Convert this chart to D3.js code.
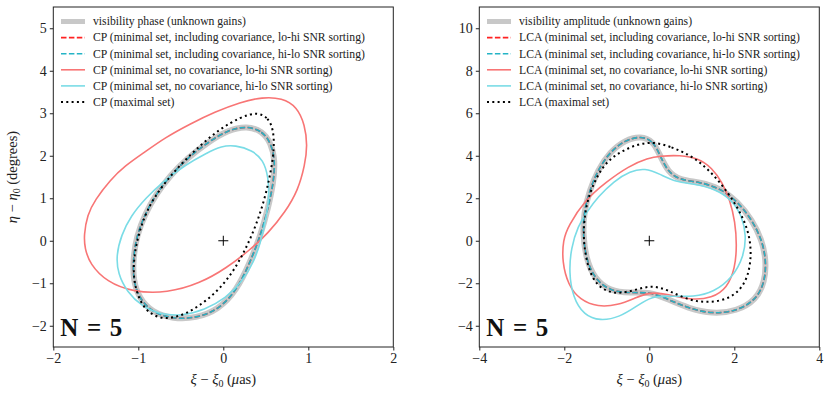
<!DOCTYPE html>
<html><head><meta charset="utf-8">
<script src="https://cdn.jsdelivr.net/npm/d3@7"></script>
<style>body{margin:0;background:#fff} svg{display:block;font-family:"Liberation Serif","DejaVu Serif",serif}</style>
</head><body><svg id="c" width="831" height="394"></svg>
<script>
// ---------- data (xi, eta) ----------
const xiTicksL = [-2, -1, 0, 1, 2];
const etaTicksL = [-2, -1, 0, 1, 2, 3, 4, 5];
const xiTicksR = [-4, -2, 0, 2, 4];
const etaTicksR = [-4, -2, 0, 2, 4, 6, 8, 10];

const legendL = ["visibility phase (unknown gains)",
  "CP (minimal set, including covariance, lo-hi SNR sorting)",
  "CP (minimal set, including covariance, hi-lo SNR sorting)",
  "CP (minimal set, no covariance, lo-hi SNR sorting)",
  "CP (minimal set, no covariance, hi-lo SNR sorting)",
  "CP (maximal set)"];
const legendR = ["visibility amplitude (unknown gains)",
  "LCA (minimal set, including covariance, lo-hi SNR sorting)",
  "LCA (minimal set, including covariance, hi-lo SNR sorting)",
  "LCA (minimal set, no covariance, lo-hi SNR sorting)",
  "LCA (minimal set, no covariance, hi-lo SNR sorting)",
  "LCA (maximal set)"];

// left panel: closure phases
const cpCov = [[0.28,2.70],[0.46,2.58],[0.56,2.30],[0.61,1.90],[0.59,1.36],[0.53,0.79],[0.44,0.13],[0.31,-0.53],[0.16,-1.16],[-0.06,-1.63],[-0.32,-1.82],[-0.59,-1.84],[-0.84,-1.68],[-0.99,-1.35],[-1.06,-0.93],[-1.06,-0.41],[-1.02,0.11],[-0.92,0.63],[-0.79,1.10],[-0.63,1.52],[-0.42,1.95],[-0.18,2.32],[0.06,2.61]];
const cpNoCovLoHi = [[-1.64,0.13],[-1.60,0.61],[-1.51,0.96],[-1.33,1.43],[-1.16,1.76],[-0.92,2.09],[-0.69,2.42],[-0.39,2.75],[-0.10,3.03],[0.20,3.26],[0.46,3.38],[0.69,3.36],[0.87,3.15],[0.96,2.72],[0.99,2.25],[0.96,1.78],[0.88,1.19],[0.73,0.68],[0.53,0.18],[0.31,-0.22],[0.04,-0.64],[-0.27,-1.00],[-0.66,-1.23],[-1.06,-1.21],[-1.37,-0.97],[-1.57,-0.55],[-1.63,-0.17]];
const cpNoCovHiLo = [[0.14,2.25],[0.34,2.13],[0.47,1.90],[0.53,1.50],[0.54,1.03],[0.50,0.49],[0.44,-0.03],[0.36,-0.50],[0.22,-0.97],[0.03,-1.35],[-0.22,-1.63],[-0.49,-1.77],[-0.75,-1.73],[-0.96,-1.54],[-1.13,-1.21],[-1.24,-0.78],[-1.26,-0.34],[-1.20,0.13],[-1.09,0.58],[-0.91,1.01],[-0.70,1.41],[-0.45,1.78],[-0.20,2.06],[-0.02,2.23]];
const cpMax = [[0.40,3.03],[0.53,2.89],[0.59,2.61],[0.60,2.18],[0.56,1.62],[0.49,1.01],[0.40,0.44],[0.29,-0.08],[0.17,-0.55],[0.01,-1.02],[-0.20,-1.42],[-0.44,-1.73],[-0.69,-1.87],[-0.89,-1.70],[-1.00,-1.35],[-1.06,-0.88],[-1.05,-0.34],[-0.99,0.21],[-0.89,0.77],[-0.72,1.29],[-0.51,1.78],[-0.27,2.25],[-0.04,2.63],[0.20,2.91]];

// right panel: log closure amplitudes
const lcaCov = [[-0.20,4.93],[0.09,4.69],[0.25,4.03],[0.44,3.23],[0.72,2.86],[1.19,2.76],[1.66,2.48],[2.09,1.82],[2.42,0.97],[2.65,0.03],[2.75,-0.91],[2.72,-1.94],[2.51,-2.79],[2.06,-3.31],[1.48,-3.45],[0.91,-3.17],[0.42,-2.74],[0.02,-2.41],[-0.45,-2.46],[-0.93,-2.37],[-1.30,-1.76],[-1.49,-0.81],[-1.56,0.27],[-1.54,1.35],[-1.40,2.39],[-1.21,3.33],[-0.93,4.17],[-0.57,4.74]];
const lcaNoCovLoHi = [[0.25,3.99],[0.72,4.03],[1.15,3.89],[1.48,3.42],[1.71,2.76],[1.90,1.92],[2.02,0.88],[2.06,-0.20],[2.02,-1.29],[1.83,-2.23],[1.48,-2.70],[0.96,-2.79],[0.44,-2.51],[0.02,-2.41],[-0.34,-2.70],[-0.74,-3.03],[-1.21,-3.12],[-1.63,-2.79],[-1.91,-2.09],[-2.05,-1.00],[-2.03,0.03],[-1.91,0.69],[-1.51,1.92],[-1.02,2.76],[-0.48,3.52],[-0.03,3.89]];
const lcaNoCovHiLo = [[-0.10,3.42],[0.25,3.14],[0.61,2.76],[1.08,2.67],[1.55,2.43],[1.95,1.92],[2.18,1.16],[2.28,0.27],[2.23,-0.72],[1.95,-1.76],[1.52,-2.41],[1.05,-2.65],[0.49,-2.60],[0.06,-2.60],[-0.29,-3.07],[-0.69,-3.59],[-1.16,-3.78],[-1.54,-3.50],[-1.80,-2.65],[-1.89,-1.47],[-1.84,-0.34],[-1.68,0.69],[-1.47,1.35],[-1.21,2.06],[-0.83,2.81],[-0.45,3.28]];
const lcaMax = [[0.06,4.69],[0.53,4.41],[0.96,4.03],[1.33,3.47],[1.66,2.76],[1.97,1.92],[2.25,0.93],[2.39,-0.06],[2.39,-1.10],[2.25,-2.09],[1.90,-2.74],[1.38,-2.93],[0.91,-2.79],[0.44,-2.32],[0.06,-2.09],[-0.34,-2.32],[-0.74,-2.51],[-1.11,-2.32],[-1.37,-1.71],[-1.51,-0.67],[-1.56,0.41],[-1.49,1.68],[-1.33,2.62],[-1.09,3.52],[-0.81,4.03],[-0.41,4.46]];

// ---------- styles ----------
const styles = [
  {stroke:"#c8c8c8", width:6, dash:null},
  {stroke:"#ff2222", width:1.6, dash:"5.5,2.4"},
  {stroke:"#24b4c6", width:1.6, dash:"5.5,2.4"},
  {stroke:"#f87575", width:1.6, dash:null},
  {stroke:"#7adce6", width:1.6, dash:null},
  {stroke:"#000000", width:2, dash:"2,3.3"}
];

const svg = d3.select("#c");
const fmt = d => d < 0 ? "\u2212" + Math.abs(d) : String(d);

function panel(opt) {
  const x = d3.scaleLinear().domain(opt.xd).range([opt.x0, opt.x1]);
  const y = d3.scaleLinear().domain(opt.yd).range([347, 7]);
  const g = svg.append("g");

  const line = d3.line().x(d => x(d[0])).y(d => y(d[1])).curve(d3.curveBasisClosed);
  const series = [opt.cov, opt.cov, opt.cov, opt.loHi, opt.hiLo, opt.max];
  series.forEach((s, i) => {
    const st = styles[i];
    g.append("path").attr("d", line(s)).attr("fill", "none")
      .attr("stroke", st.stroke).attr("stroke-width", st.width)
      .attr("stroke-dasharray", st.dash).attr("stroke-linecap", "butt");
  });

  // centre marker
  const cx = x(0), cy = y(0);
  g.append("line").attr("x1", cx - 5).attr("x2", cx + 5).attr("y1", cy).attr("y2", cy).attr("stroke", "#000").attr("stroke-width", 1);
  g.append("line").attr("x1", cx).attr("x2", cx).attr("y1", cy - 5).attr("y2", cy + 5).attr("stroke", "#000").attr("stroke-width", 1);

  // axes
  const ax = g.append("g").attr("transform", "translate(0,347)")
    .call(d3.axisBottom(x).tickValues(opt.xt).tickFormat(fmt).tickSize(3.5).tickPadding(3));
  const ay = g.append("g").attr("transform", `translate(${opt.x0},0)`)
    .call(d3.axisLeft(y).tickValues(opt.yt).tickFormat(fmt).tickSize(3.5).tickPadding(3));
  [ax, ay].forEach(a => {
    a.select(".domain").remove();
    a.selectAll("text").attr("font-size", 14).attr("fill", "#222").attr("font-family", "Liberation Serif");
    a.selectAll("line").attr("stroke", "#222").attr("stroke-width", 1);
  });
  g.append("rect").attr("x", opt.x0).attr("y", 7).attr("width", opt.x1 - opt.x0).attr("height", 340)
    .attr("fill", "none").attr("stroke", "#222").attr("stroke-width", 1);

  // x label
  const xl = g.append("text").attr("x", (opt.x0 + opt.x1) / 2).attr("y", 384).attr("text-anchor", "middle")
    .attr("font-size", 14.5).attr("fill", "#222");
  xl.append("tspan").attr("font-style", "italic").text("\u03be");
  xl.append("tspan").text(" \u2212 ");
  xl.append("tspan").attr("font-style", "italic").text("\u03be");
  xl.append("tspan").attr("font-size", 10).attr("dy", 3).text("0");
  xl.append("tspan").attr("dy", -3).text(" (");
  xl.append("tspan").attr("font-style", "italic").text("\u03bc");
  xl.append("tspan").text("as)");

  // legend
  const lg = g.append("g");
  opt.legend.forEach((t, i) => {
    const yy = 21.5 + i * 16.1;
    const st = styles[i];
    lg.append("line").attr("x1", opt.lx).attr("x2", opt.lx + 24).attr("y1", yy).attr("y2", yy)
      .attr("stroke", st.stroke).attr("stroke-width", i === 0 ? 5 : st.width)
      .attr("stroke-dasharray", st.dash).attr("stroke-linecap", "butt");
    lg.append("text").attr("x", opt.lx + 32).attr("y", yy).attr("dy", "0.33em")
      .attr("font-size", 11.7).attr("fill", "#222").text(t);
  });

  // N = 5
  g.append("text").attr("x", opt.x0 + 7).attr("y", 336).attr("font-size", 25).attr("font-weight", "bold")
    .attr("fill", "#111").attr("textLength", 62).attr("lengthAdjust", "spacing").text("N = 5");
}

panel({x0:53.3, x1:393.3, xd:[-2,2], yd:[-2.5,5.5], xt:xiTicksL, yt:etaTicksL,
  cov:cpCov, loHi:cpNoCovLoHi, hiLo:cpNoCovHiLo, max:cpMax, legend:legendL, lx:61});
panel({x0:479.3, x1:819.3, xd:[-4,4], yd:[-5,11], xt:xiTicksR, yt:etaTicksR,
  cov:lcaCov, loHi:lcaNoCovLoHi, hiLo:lcaNoCovHiLo, max:lcaMax, legend:legendR, lx:487});

// y label (left panel only)
const yl = svg.append("text").attr("transform", "translate(17,177) rotate(-90)").attr("text-anchor", "middle")
  .attr("font-size", 14.5).attr("fill", "#222");
yl.append("tspan").attr("font-style", "italic").text("\u03b7");
yl.append("tspan").text(" \u2212 ");
yl.append("tspan").attr("font-style", "italic").text("\u03b7");
yl.append("tspan").attr("font-size", 10).attr("dy", 3).text("0");
yl.append("tspan").attr("dy", -3).text(" (degrees)");
</script></body></html>
